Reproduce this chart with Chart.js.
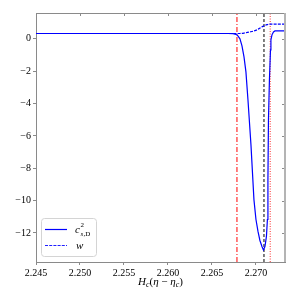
<!DOCTYPE html>
<html>
<head>
<meta charset="utf-8">
<script src="https://cdn.jsdelivr.net/npm/chart.js@4.4.1/dist/chart.umd.min.js"></script>
<style>
  html, body { margin: 0; padding: 0; background: #fff; }
  #wrap { width: 300px; height: 300px; }
</style>
</head>
<body>
<div id="wrap"><canvas id="chart" width="300" height="300"></canvas></div>
<script>
// c^2_{s,D} curve
var cX = [2.245, 2.26682, 2.26739, 2.26773, 2.26795, 2.26818, 2.26841, 2.26864, 2.26886, 2.26909, 2.26943, 2.26977, 2.2700, 2.27023, 2.27045, 2.27068, 2.27085, 2.27102, 2.27119, 2.2713, 2.27136, 2.27142, 2.27153, 2.27165, 2.2717, 2.27182, 2.27199, 2.27216, 2.2733];
var cY = [0.333, 0.333, 0.32, 0.28, 0.19, 0.0, -0.43, -1.11, -2.04, -3.77, -6.54, -9.94, -11.17, -11.91, -12.47, -12.84, -13.06, -12.84, -12.22, -11.17, -8.7, -5.0, -2.53, -0.68, -0.06, 0.25, 0.43, 0.49, 0.49];
// w curve
var wX = [2.245, 2.26818, 2.26875, 2.26932, 2.26977, 2.27023, 2.27057, 2.27091, 2.27125, 2.27159, 2.2733];
var wY = [0.333, 0.333, 0.37, 0.43, 0.49, 0.59, 0.71, 0.80, 0.88, 0.91, 0.91];
// vertical marker lines
var vLineX = [2.26784, 2.27091, 2.27162];
var xTicks = [2.245, 2.250, 2.255, 2.260, 2.265, 2.270];
var yTicks = [-12, -10, -8, -6, -4, -2, 0];
var xMin = 2.245, xMax = 2.2733, yMin = -13.8, yMax = 1.6;

var serif = '"Liberation Serif", "DejaVu Serif", serif';
var spine = '#8a8a8a';

function pts(xs, ys) {
    return xs.map(function (x, i) { return { x: x, y: ys[i] }; });
}
function vline(x) {
    return [{ x: x, y: yMin }, { x: x, y: yMax }];
}

// frame, inner ticks on top/right, legend and x title
var decor = {
    id: 'decor',
    afterDraw: function (chart) {
        var ctx = chart.ctx, a = chart.chartArea;
        var xs = chart.scales.x, ys = chart.scales.y;
        ctx.save();
        ctx.strokeStyle = spine;
        ctx.lineWidth = 1;
        ctx.beginPath();
        ctx.moveTo(a.left, a.top + 0.5); ctx.lineTo(a.right, a.top + 0.5);
        xTicks.forEach(function (v) {
            var px = Math.round(xs.getPixelForValue(v)) + 0.5;
            ctx.moveTo(px, a.top); ctx.lineTo(px, a.top + 3);
        });
        yTicks.forEach(function (v) {
            var py = Math.round(ys.getPixelForValue(v)) + 0.5;
            ctx.moveTo(a.right, py); ctx.lineTo(a.right - 3, py);
        });
        ctx.stroke();
        ctx.strokeStyle = '#b4b4b4';
        ctx.lineWidth = 2;
        ctx.beginPath();
        ctx.moveTo(a.right, a.top); ctx.lineTo(a.right, a.bottom);
        ctx.stroke();

        // legend
        var bx = 41, by = 218, bw = 55, bh = 38;
        ctx.fillStyle = 'rgba(255,255,255,0.85)';
        ctx.strokeStyle = '#d4d4d4';
        ctx.lineWidth = 1;
        ctx.beginPath();
        ctx.roundRect(bx + 0.5, by + 0.5, bw, bh, 3);
        ctx.fill(); ctx.stroke();
        ctx.lineWidth = 1.2;
        ctx.strokeStyle = '#0000ff';
        ctx.beginPath(); ctx.moveTo(45, 229.5); ctx.lineTo(67, 229.5); ctx.stroke();
        ctx.strokeStyle = '#2020ff';
        ctx.setLineDash([3, 1.2]);
        ctx.beginPath(); ctx.moveTo(45, 245.5); ctx.lineTo(67, 245.5); ctx.stroke();
        ctx.setLineDash([]);
        ctx.fillStyle = '#000';
        ctx.textBaseline = 'alphabetic';
        ctx.textAlign = 'left';
        ctx.font = 'italic 11px ' + serif;
        ctx.fillText('c', 75, 233);
        ctx.font = '7px ' + serif;
        ctx.fillText('2', 80.5, 227);
        ctx.font = 'italic 7px ' + serif;
        ctx.fillText('s', 80.5, 236);
        ctx.font = '7px ' + serif;
        ctx.fillText(',D', 83.5, 236);
        ctx.font = 'italic 11px ' + serif;
        ctx.fillText('w', 76, 249);

        // x title
        var parts = [
            ['italic 11px ', 'H', 0], ['italic 8px ', 'c', 2], ['11px ', '(', 0],
            ['italic 11px ', 'η', 0], ['11px ', ' − ', 0], ['italic 11px ', 'η', 0],
            ['italic 8px ', 'c', 2], ['11px ', ')', 0]
        ];
        var total = 0;
        parts.forEach(function (p) { ctx.font = p[0] + serif; total += ctx.measureText(p[1]).width; });
        var tx = (a.left + a.right) / 2 - total / 2, ty = 285;
        parts.forEach(function (p) {
            ctx.font = p[0] + serif;
            ctx.fillText(p[1], tx, ty + p[2]);
            tx += ctx.measureText(p[1]).width;
        });
        ctx.restore();
    }
};

new Chart(document.getElementById('chart'), {
    type: 'line',
    data: {
        datasets: [
            {
                label: 'c2',
                data: pts(cX, cY),
                borderColor: '#0000ff',
                borderWidth: 1.2,
                pointRadius: 0,
                tension: 0
            },
            {
                label: 'w',
                data: pts(wX, wY),
                borderColor: '#0000ff',
                borderWidth: 1.2,
                borderDash: [3, 1.2],
                pointRadius: 0,
                cubicInterpolationMode: 'monotone'
            },
            {
                label: 'v1',
                data: vline(vLineX[0]),
                borderColor: '#ff0000',
                borderWidth: 1,
                borderDash: [5, 2, 1, 2],
                pointRadius: 0
            },
            {
                label: 'v2',
                data: vline(vLineX[1]),
                borderColor: '#000000',
                borderWidth: 1,
                borderDash: [3, 2],
                pointRadius: 0
            },
            {
                label: 'v3',
                data: vline(vLineX[2]),
                borderColor: '#ff3030',
                borderWidth: 1,
                borderDash: [1, 1.5],
                pointRadius: 0
            }
        ]
    },
    options: {
        responsive: false,
        animation: false,
        layout: { padding: { top: 13, right: 15, left: 0, bottom: 0 } },
        plugins: { legend: { display: false }, tooltip: { enabled: false } },
        scales: {
            x: {
                type: 'linear',
                min: xMin,
                max: xMax,
                afterBuildTicks: function (s) { s.ticks = xTicks.map(function (v) { return { value: v }; }); },
                afterFit: function (s) { s.height = 38; },
                grid: { display: true, drawOnChartArea: false, drawTicks: true, tickLength: 3, color: spine },
                border: { display: true, color: spine, width: 1 },
                ticks: {
                    maxRotation: 0,
                    padding: 2,
                    color: '#000',
                    font: { family: serif, size: 10 },
                    callback: function (v) { return v.toFixed(3); }
                }
            },
            y: {
                type: 'linear',
                min: yMin,
                max: yMax,
                afterBuildTicks: function (s) { s.ticks = yTicks.map(function (v) { return { value: v }; }); },
                afterFit: function (s) { s.width = 36; },
                grid: { display: true, drawOnChartArea: false, drawTicks: true, tickLength: 3, color: spine },
                border: { display: true, color: spine, width: 1 },
                ticks: {
                    padding: 2,
                    color: '#000',
                    font: { family: serif, size: 10 },
                    callback: function (v) { return v < 0 ? '\u2212' + Math.abs(v) : String(v); }
                }
            }
        }
    },
    plugins: [decor]
});
</script>
</body>
</html>
